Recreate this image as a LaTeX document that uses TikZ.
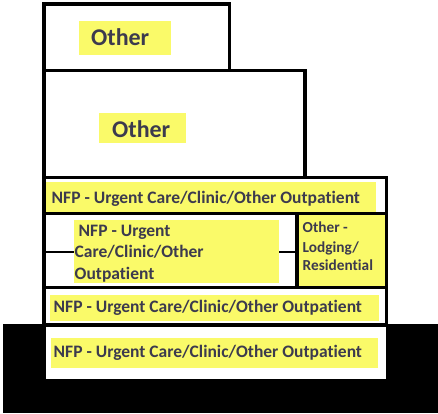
\documentclass[tikz,border=0pt]{standalone}
\usepackage{fontspec}
\setmainfont{Carlito}[Ligatures=NoCommon]
\definecolor{hly}{RGB}{250,250,105}
\definecolor{txt}{RGB}{60,58,78}
\begin{document}
\begin{tikzpicture}[x=1pt,y=-1pt,
  wall/.style={line width=3.2pt, draw=black},
  stub/.style={line width=2.2pt, draw=black},
  hl/.style={fill=hly},
  lbl/.style={font=\bfseries\fontsize{17.5}{21}\selectfont, text=txt, inner sep=0pt, anchor=base west},
  big/.style={font=\bfseries\fontsize{24}{29}\selectfont, text=txt, inner sep=0pt, anchor=base west},
  small/.style={font=\bfseries\fontsize{15.3}{19}\selectfont, text=txt, inner sep=0pt, anchor=base west}]
\useasboundingbox (0,0) rectangle (438,413);
\fill[white] (0,0) rectangle (438,413);
% ground
\fill[black] (3.3,324.3) rectangle (438,413);
\fill[white] (45.7,326) rectangle (385.7,379.3);
% highlights
\fill[hl] (79,21) rectangle (171,55);
\fill[hl] (99,113) rectangle (186,143);
\fill[hl] (46,182) rectangle (376,213);
\fill[hl] (298.5,215) rectangle (385.2,286);
\node[hl, inner sep=0pt, minimum width=205pt, minimum height=63pt, anchor=north west] (inner) at (74,220) {};
\fill[hl] (50,295) rectangle (379,321);
\fill[hl] (51,338) rectangle (378,368);
% walls
\draw[wall] (44,4) rectangle (229.7,70.7);
\draw[wall] (44,70.7) rectangle (305,177.7);
\draw[wall] (44,177.7) rectangle (386.7,213.3);
\draw[wall] (44,213.3) rectangle (386.7,287.5);
\draw[wall] (297,213.3) -- (297,287.5);
\draw[wall] (44,287.5) rectangle (386.7,325);
\coordinate (lw) at (44,252);
\coordinate (dv) at (297,252);
\draw[stub] (lw) -- (inner.west |- lw);
\draw[stub] (inner.east |- dv) -- (dv);
% labels
\node[big] (o1) at (91,45) {Other};
\node[big] (o2) at (112,137) {Other};
\node[lbl] (r3) at (51.5,203) {NFP - Urgent Care/Clinic/Other Outpatient};
\node[lbl] (i1) at (78.5,236.5) {NFP - Urgent};
\node[lbl] (i2) at (74.5,257.5) {Care/Clinic/Other};
\node[lbl] (i3) at (74.5,279) {Outpatient};
\node[small] (l1) at (302.5,232) {Other -};
\node[small] (l2) at (302.5,252) {Lodging/};
\node[small] (l3) at (302.5,270.7) {Residential};
\node[lbl] (r5) at (53.5,312.5) {NFP - Urgent Care/Clinic/Other Outpatient};
\node[lbl] (r6) at (53.5,357) {NFP - Urgent Care/Clinic/Other Outpatient};
\end{tikzpicture}
\end{document}
